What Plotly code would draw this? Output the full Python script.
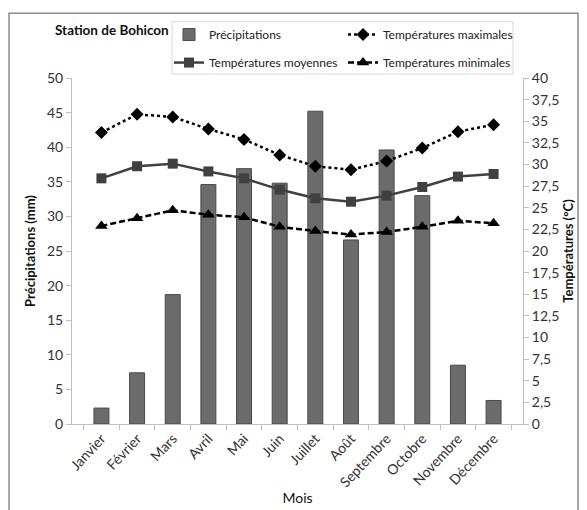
import plotly.graph_objects as go

mois = ["Janvier", "Février", "Mars", "Avril", "Mai", "Juin", "Juillet",
        "Août", "Septembre", "Octobre", "Novembre", "Décembre"]
precipitations = [2.3, 7.4, 18.7, 34.6, 36.9, 34.8, 45.2, 26.6, 39.6, 33.0, 8.5, 3.4]
t_max = [33.7, 35.8, 35.5, 34.1, 32.9, 31.1, 29.8, 29.4, 30.4, 31.9, 33.8, 34.6]
t_moy = [28.4, 29.8, 30.1, 29.2, 28.4, 27.1, 26.1, 25.7, 26.4, 27.4, 28.6, 28.9]
t_min = [22.9, 23.8, 24.7, 24.2, 23.9, 22.8, 22.3, 21.9, 22.2, 22.8, 23.5, 23.2]

FONT = "Lato, Liberation Sans, sans-serif"

fig = go.Figure()
fig.add_trace(go.Bar(
    x=mois, y=precipitations, name="Précipitations", legendgroup="p",
    marker=dict(color="#6b6b6b", line=dict(color="#4a4a4a", width=1)),
    legend="legend", yaxis="y"))
fig.add_trace(go.Scatter(
    x=mois, y=t_moy, name="Températures moyennes", mode="lines+markers", legendgroup="moy",
    line=dict(color="#404040", width=2.5),
    marker=dict(symbol="square", size=10, color="#404040"),
    legend="legend", yaxis="y2"))
fig.add_trace(go.Scatter(
    x=mois, y=t_max, name="Températures maximales", mode="lines+markers", legendgroup="max",
    line=dict(color="#000000", width=2.5, dash="dot"),
    marker=dict(symbol="diamond", size=10, color="#000000"),
    legend="legend2", yaxis="y2"))
fig.add_trace(go.Scatter(
    x=mois, y=t_min, name="Températures minimales", mode="lines+markers", legendgroup="min",
    line=dict(color="#000000", width=2.5, dash="6px,3px"),
    marker=dict(symbol="triangle-up", size=11, color="#000000"),
    legend="legend2", yaxis="y2"))

legend_common = dict(
    orientation="v", yanchor="top", bgcolor="rgba(0,0,0,0)",
    font=dict(family=FONT, size=12, color="#222222"),
    tracegroupgap=9, itemwidth=30)

# page has an 8px body margin: figure is drawn 8px right/down of its origin
fig.update_layout(
    width=579, height=502,
    margin=dict(l=64, r=64, t=70, b=85.7, autoexpand=False),
    plot_bgcolor="white", paper_bgcolor="white",
    separators=", ",
    bargap=0.58,
    font=dict(family=FONT, size=13, color="#333333"),
    xaxis=dict(
        title=dict(text="Mois", font=dict(family=FONT, size=14, color="#111111"), standoff=3),
        tickangle=-47, tickson="boundaries", ticks="outside", ticklen=5,
        tickcolor="#bfbfbf", showline=True, linecolor="#bfbfbf", linewidth=1,
        showgrid=False, tickfont=dict(size=14, color="#333333")),
    yaxis=dict(
        title=dict(text="<b>Précipitations (mm)</b>", font=dict(family=FONT, size=13, color="#111111"), standoff=8),
        range=[0, 50], dtick=5, ticks="outside", ticklen=5, tickcolor="#bfbfbf",
        showline=True, linecolor="#bfbfbf", linewidth=1, showgrid=False, zeroline=False,
        tickfont=dict(size=14, color="#333333")),
    yaxis2=dict(
        title=dict(text="<b>Températures (°C)</b>", font=dict(family=FONT, size=13, color="#111111"), standoff=5),
        range=[0, 40], dtick=2.5, overlaying="y", side="right",
        ticks="outside", ticklen=5, tickcolor="#bfbfbf",
        showline=True, linecolor="#bfbfbf", linewidth=1, showgrid=False, zeroline=False,
        tickfont=dict(size=14, color="#333333")),
    legend=dict(x=(169 - 72) / 451, y=(424.3 - 20) / 346.3, xanchor="left", **legend_common),
    legend2=dict(x=(343 - 72) / 451, y=(424.3 - 20) / 346.3, xanchor="left", **legend_common),
    showlegend=True,
)

fig.add_annotation(
    text="<b>Station de Bohicon</b>", xref="paper", yref="paper",
    x=(112 - 72) / 451, y=(424.3 - 30) / 346.3, xanchor="center", yanchor="middle", showarrow=False,
    font=dict(family=FONT, size=13.5, color="#111111"))

# legend frame and outer chart frame
fig.add_shape(type="rect", xref="paper", yref="paper",
              x0=(172 - 72) / 451, x1=(513 - 72) / 451,
              y0=(424.3 - 74) / 346.3, y1=(424.3 - 21.7) / 346.3,
              line=dict(color="#d9d9d9", width=1), fillcolor="rgba(0,0,0,0)")
fig.add_shape(type="rect", xref="paper", yref="paper",
              x0=(9 - 72) / 451, x1=(578 - 72) / 451,
              y0=(424.3 - 520) / 346.3, y1=(424.3 - 13.3) / 346.3,
              line=dict(color="#8c8c8c", width=1.5), fillcolor="rgba(0,0,0,0)")

fig.write_html("out.html")
